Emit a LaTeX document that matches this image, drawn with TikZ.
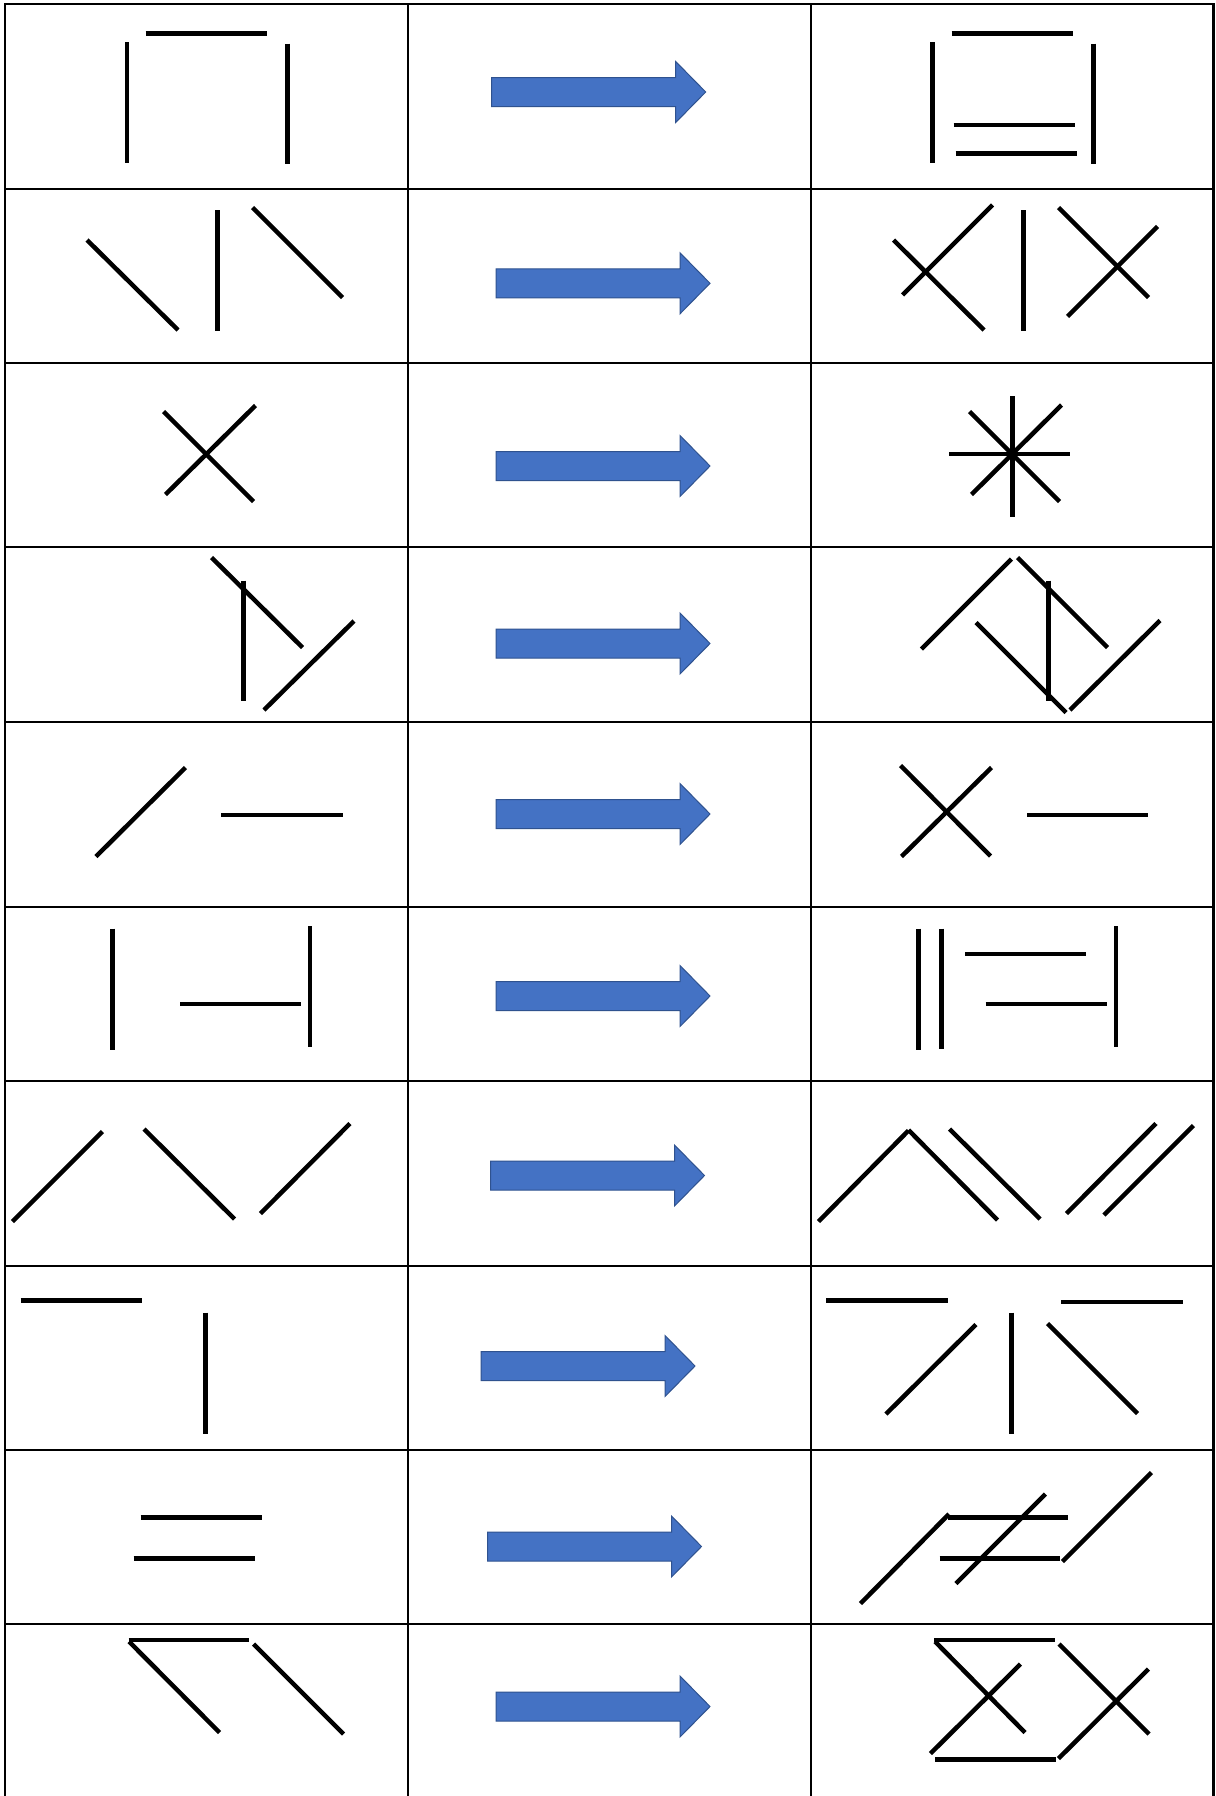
\documentclass[tikz,border=0pt]{standalone}
\usepackage{tikz}
\definecolor{arrowblue}{HTML}{4472C4}
\definecolor{arrowedge}{HTML}{2F528F}

\begin{document}
\begin{tikzpicture}[x=0.02cm, y=-0.02cm, tabline/.style = {line width=0.045cm}, stick/.style = {line width=0.09cm}, bluearrow/.style = {fill=arrowblue, draw=arrowedge, line width=0.02cm}]
    \useasboundingbox (0,0) rectangle (1215,1796);
    \fill[white] (0,0) rectangle (1215,1796);

    \foreach \xc in {5,408,811,1213.5}
        \draw[tabline] (\xc,3) -- (\xc,1796);
    \foreach \yr in {4,189,363,547,722,907,1081,1266,1450,1624}
        \draw[tabline] (4,\yr) -- (1214.5,\yr);

    \foreach \xl/\ym in {491.7/92, 496/283.3, 496/466, 496/643.5, 496/814, 496/996, 490.5/1175.5, 481/1366, 487.5/1546.5, 496/1706.5}
        \draw[bluearrow] (\xl,\ym-14.5) -- ++(184,0) -- ++(0,-16) -- ++(30,30.5) -- ++(-30,30.5) -- ++(0,-16) -- ++(-184,0) -- cycle;

    \draw[stick] (127,42) -- (127,163);
    \draw[stick] (145.5,33.5) -- (266.5,33.5);
    \draw[stick] (287.5,43.5) -- (287.5,164);

    \draw[stick] (87,240) -- (178,330);
    \draw[stick] (217.5,210) -- (217.5,331);
    \draw[stick] (252.5,207.5) -- (342.5,297.5);

    \draw[stick] (163.5,411.5) -- (253.5,501.5);
    \draw[stick] (165.5,494.5) -- (255.5,405.5);

    \draw[stick] (211.5,557.5) -- (302.5,647.5);
    \draw[stick] (243.5,580.5) -- (243.5,701);
    \draw[stick] (264,710) -- (354,621);

    \draw[stick] (96,856.5) -- (185.5,767.5);
    \draw[stick] (221,815) -- (342.5,815);

    \draw[stick] (112.5,928.5) -- (112.5,1049.5);
    \draw[stick] (180,1004) -- (301,1004);
    \draw[stick] (310,926) -- (310,1046.5);

    \draw[stick] (12.5,1221.5) -- (102.5,1131.5);
    \draw[stick] (144,1129) -- (234.5,1219);
    \draw[stick] (260.5,1213.5) -- (350,1123.5);

    \draw[stick] (20.5,1300.5) -- (141.5,1300.5);
    \draw[stick] (205.5,1312.5) -- (205.5,1433.5);

    \draw[stick] (140.5,1517.5) -- (261.5,1517.5);
    \draw[stick] (133.5,1558.5) -- (254.5,1558.5);

    \draw[stick] (128.5,1640) -- (249,1640);
    \draw[stick] (129,1641.5) -- (219.5,1732.5);
    \draw[stick] (253.5,1644) -- (343.5,1734);

    \draw[stick] (932.5,42) -- (932.5,163);
    \draw[stick] (951.5,33.5) -- (1072.5,33.5);
    \draw[stick] (953.5,125) -- (1074.5,125);
    \draw[stick] (955.5,153.5) -- (1076.5,153.5);
    \draw[stick] (1093.5,43.5) -- (1093.5,164);

    \draw[stick] (902.5,295) -- (992.5,205);
    \draw[stick] (893.5,240) -- (984,330);
    \draw[stick] (1023.5,210) -- (1023.5,331);
    \draw[stick] (1058.5,207.5) -- (1148.5,297.5);
    \draw[stick] (1067.5,316.5) -- (1157.5,226.5);

    \draw[stick] (1012.5,396) -- (1012.5,517);
    \draw[stick] (949,454) -- (1070,454);
    \draw[stick] (969.5,411.5) -- (1059.5,501.5);
    \draw[stick] (971.5,494.5) -- (1061.5,405);

    \draw[stick] (921.5,649) -- (1011.5,559);
    \draw[stick] (1017.5,557.5) -- (1107.5,647.5);
    \draw[stick] (976,622.5) -- (1066,712.5);
    \draw[stick] (1048.5,580.5) -- (1048.5,701);
    \draw[stick] (1070,710) -- (1160,620.5);

    \draw[stick] (900.5,765.5) -- (990.5,856);
    \draw[stick] (901.5,856.5) -- (991.5,767.5);
    \draw[stick] (1027,815) -- (1148,815);

    \draw[stick] (918.5,928.5) -- (918.5,1049.5);
    \draw[stick] (941.5,928.5) -- (941.5,1048.5);
    \draw[stick] (965,954) -- (1085.5,954);
    \draw[stick] (985.5,1004) -- (1106.5,1004);
    \draw[stick] (1116,926) -- (1116,1046.5);

    \draw[stick] (818.5,1221.5) -- (908.5,1130.5);
    \draw[stick] (908.5,1130) -- (997.5,1220);
    \draw[stick] (949.5,1129) -- (1040,1219);
    \draw[stick] (1066.5,1213.5) -- (1156,1123.5);
    \draw[stick] (1104,1215) -- (1193.5,1125.5);

    \draw[stick] (826,1300.5) -- (947.5,1300.5);
    \draw[stick] (1061,1302) -- (1182.5,1302);
    \draw[stick] (886,1414) -- (976,1324.5);
    \draw[stick] (1011.5,1312.5) -- (1011.5,1433.5);
    \draw[stick] (1047.5,1323.5) -- (1137.5,1413.5);

    \draw[stick] (860.5,1603.5) -- (949,1514);
    \draw[stick] (947.5,1517.5) -- (1067.5,1517.5);
    \draw[stick] (956,1583.5) -- (1045.5,1494);
    \draw[stick] (939.5,1558.5) -- (1060,1558.5);
    \draw[stick] (1062.5,1561.5) -- (1151.5,1472.5);

    \draw[stick] (934,1640) -- (1055,1640);
    \draw[stick] (935,1641.5) -- (1025,1732.5);
    \draw[stick] (930.5,1753.5) -- (1020.5,1664);
    \draw[stick] (935,1759.5) -- (1055.5,1759.5);
    \draw[stick] (1059,1644) -- (1149,1734);
    \draw[stick] (1058.5,1758.5) -- (1148.5,1669);
\end{tikzpicture}
\end{document}
